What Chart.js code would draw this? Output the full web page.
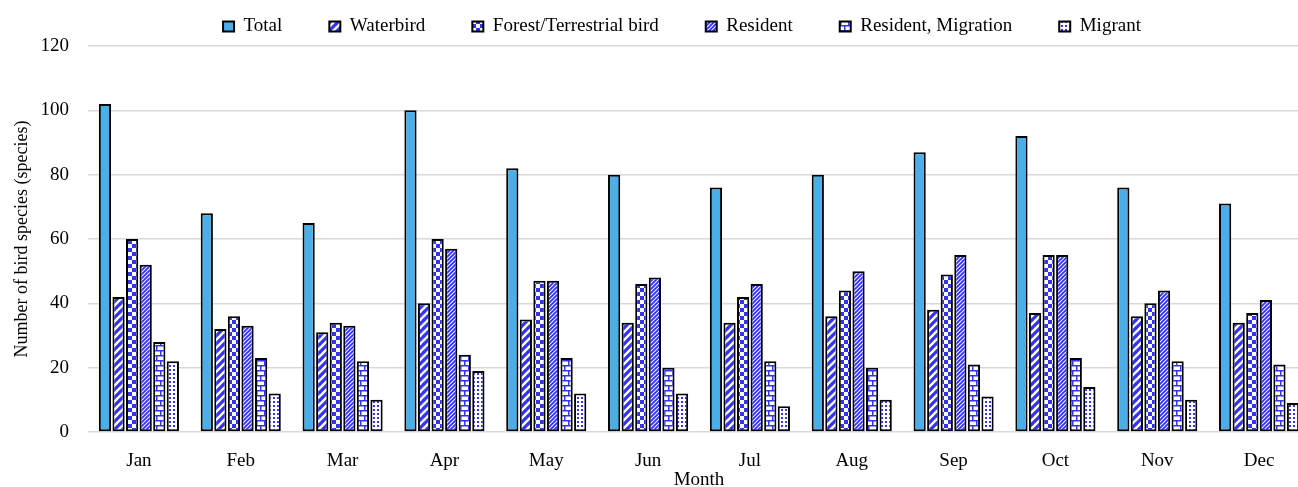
<!DOCTYPE html>
<html>
<head>
<meta charset="utf-8">
<script src="https://cdn.jsdelivr.net/npm/chart.js@4"></script>
<style>
  html, body { margin: 0; padding: 0; background: #fff; overflow: hidden; }
  canvas { display: block; }
</style>
</head>
<body>
<canvas id="birdChart" width="1310" height="487"></canvas>
<script>
// Monthly bird species counts
const months = ["Jan", "Feb", "Mar", "Apr", "May", "Jun", "Jul", "Aug", "Sep", "Oct", "Nov", "Dec"];
const total = [102, 68, 65, 100, 82, 80, 76, 80, 87, 92, 76, 71];
const waterbird = [42, 32, 31, 40, 35, 34, 34, 36, 38, 37, 36, 34];
const forestBird = [60, 36, 34, 60, 47, 46, 42, 44, 49, 55, 40, 37];
const resident = [52, 33, 33, 57, 47, 48, 46, 50, 55, 55, 44, 41];
const residentMigration = [28, 23, 22, 24, 23, 20, 22, 20, 21, 23, 22, 21];
const migrant = [22, 12, 10, 19, 12, 12, 8, 10, 11, 14, 10, 9];
const yTicks = [0, 20, 40, 60, 80, 100, 120];

const BLUE = "#3333f0";
const SERIF = "'Times New Roman', 'Liberation Serif', serif";

// small tile -> repeating fill
function makePattern(w, h, paint) {
  const tile = document.createElement("canvas");
  tile.width = w;
  tile.height = h;
  const c = tile.getContext("2d");
  c.fillStyle = "#fff";
  c.fillRect(0, 0, w, h);
  c.fillStyle = BLUE;
  c.strokeStyle = BLUE;
  paint(c, w, h);
  return c.createPattern(tile, "repeat");
}

function diagonal(size, lw) {
  return makePattern(size, size, (c, w, h) => {
    c.lineWidth = lw;
    c.beginPath();
    c.moveTo(-1, h + 1); c.lineTo(w + 1, -1);
    c.moveTo(-1, 1); c.lineTo(1, -1);
    c.moveTo(w - 1, h + 1); c.lineTo(w + 1, h - 1);
    c.stroke();
  });
}

const wideStripes = diagonal(8, 3.2);
const narrowStripes = diagonal(4, 1.9);
const checker = makePattern(8, 8, (c) => {
  c.fillRect(0, 0, 4, 4);
  c.fillRect(4, 4, 4, 4);
});
const bricks = makePattern(8, 10, (c) => {
  c.fillRect(0, 0, 8, 1.5);
  c.fillRect(0, 5, 8, 1.5);
  c.fillRect(0, 0, 1.5, 5);
  c.fillRect(4, 5, 1.5, 5);
});
const dots = makePattern(4, 4, (c) => {
  c.fillRect(1, 1, 2, 2);
});

function series(label, data, fill) {
  return {
    label: label,
    data: data,
    backgroundColor: fill,
    borderColor: "#000",
    borderWidth: 2,
    borderSkipped: false,
    categoryPercentage: 0.8,
    barPercentage: 0.9
  };
}

// nudge the legend to the right
const legendShift = {
  id: "legendShift",
  afterLayout(chart) {
    chart.legend.left += 27;
    chart.legend.right += 27;
  }
};

new Chart(document.getElementById("birdChart"), {
  type: "bar",
  data: {
    labels: months,
    datasets: [
      series("Total", total, "#4aaee8"),
      series("Waterbird", waterbird, wideStripes),
      series("Forest/Terrestrial bird", forestBird, checker),
      series("Resident", resident, narrowStripes),
      series("Resident, Migration", residentMigration, bricks),
      series("Migrant", migrant, dots)
    ]
  },
  plugins: [legendShift],
  options: {
    responsive: false,
    animation: false,
    layout: { padding: { top: -30, left: 0, right: 0, bottom: 0 } },
    plugins: {
      tooltip: { enabled: false },
      legend: {
        position: "top",
        labels: {
          boxWidth: 11,
          boxHeight: 10,
          padding: 47,
          color: "#000",
          font: { family: SERIF, size: 19 }
        }
      }
    },
    scales: {
      x: {
        grid: { display: false, drawTicks: false },
        border: { display: false },
        ticks: { color: "#000", padding: 18, font: { family: SERIF, size: 19 } },
        title: {
          display: true,
          text: "Month",
          color: "#000",
          font: { family: SERIF, size: 19 },
          padding: { top: 0, bottom: -4 }
        },
        afterFit(scale) { scale.height = 55; }
      },
      y: {
        min: 0,
        max: 120,
        afterBuildTicks(scale) { scale.ticks = yTicks.map(v => ({ value: v })); },
        grid: { color: "#d9d9d9", lineWidth: 1.5, drawTicks: false },
        border: { display: false },
        ticks: { color: "#000", padding: 19, font: { family: SERIF, size: 19 } },
        title: {
          display: true,
          text: "Number of bird species (species)",
          color: "#000",
          font: { family: SERIF, size: 18 },
          padding: { top: 11, bottom: 0 }
        },
        afterFit(scale) { scale.width = 88; }
      }
    }
  }
});
</script>
</body>
</html>
